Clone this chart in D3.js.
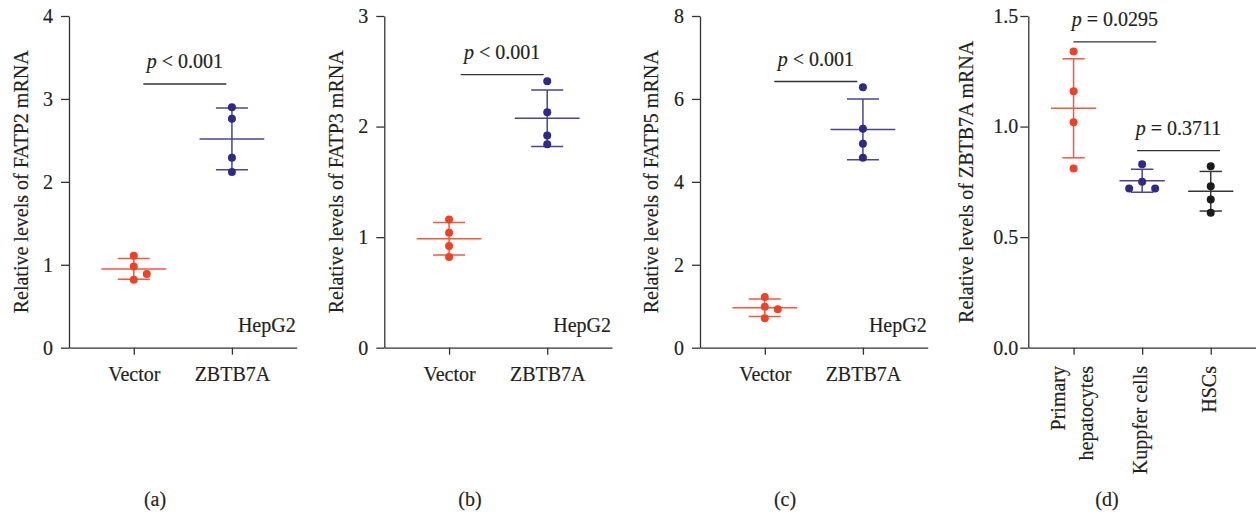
<!DOCTYPE html>
<html>
<head>
<meta charset="utf-8">
<script src="https://cdn.jsdelivr.net/npm/d3@7"></script>
<style>
html,body{margin:0;padding:0;background:#fff;}
svg{display:block;}
svg text{font-family:"Liberation Serif","Times New Roman",Times,serif;stroke:#231f20;stroke-width:0.18px;}
</style>
</head>
<body>
<svg id="chart" width="1256" height="515"></svg>
<script>
/* ---------- data ---------- */
const hepCats   = ["Vector","ZBTB7A"];
const fatp2Vec  = [1.11,0.98,0.89,0.82];
const fatp2Zb   = [2.90,2.76,2.29,2.12];
const fatp3Vec  = [1.16,1.04,0.92,0.82];
const fatp3Zb   = [2.41,2.13,1.92,1.84];
const fatp5Vec  = [1.22,0.99,0.93,0.71];
const fatp5Zb   = [6.28,5.28,4.92,4.58];

const cellCats  = ["Primary\nhepatocytes","Kuppfer cells","HSCs"];
const zbPrimary = [1.34,1.16,1.02,0.81];
const zbKupffer = [0.83,0.75,0.72,0.72];
const zbHSC     = [0.82,0.73,0.67,0.61];

const ticksA = [0,1,2,3,4];
const ticksB = [0,1,2,3];
const ticksC = [0,2,4,6,8];
const ticksD = [0,0.5,1.0,1.5];

// significance bars: pair of category indexes, height in data units, label
const sigA = [{pair:[0,1], y:3.18, op:"<", val:"0.001"}];
const sigB = [{pair:[0,1], y:2.47, op:"<", val:"0.001"}];
const sigC = [{pair:[0,1], y:6.42, op:"<", val:"0.001"}];
const sigD = [{pair:[0,1], y:1.383, op:"=", val:"0.0295"},
              {pair:[1,2], y:0.891, op:"=", val:"0.3711"}];

/* ---------- style ---------- */
const INK="#231f20", AX="#333";
const RED="#ee4126", BLUE="#2f2a88", BLACK="#1b1b1b";
const TOP=16, BOT=347.7, R=4;

const panels=[
  {left:69,   yMax:4,   ticks:ticksA, fmt:d3.format("d"),   pad:8, cats:hepCats,  groups:[fatp2Vec,fatp2Zb],
   colors:[RED,BLUE], ylab:"Relative levels of FATP2 mRNA", ylabX:28,  sig:sigA, sigDx:[2],   tag:"(a)", tagX:155,  cell:"HepG2"},
  {left:384.3,yMax:3,   ticks:ticksB, fmt:d3.format("d"),   pad:8, cats:hepCats,  groups:[fatp3Vec,fatp3Zb],
   colors:[RED,BLUE], ylab:"Relative levels of FATP3 mRNA", ylabX:343, sig:sigB, sigDx:[4],   tag:"(b)", tagX:470,  cell:"HepG2"},
  {left:700,  yMax:8,   ticks:ticksC, fmt:d3.format("d"),   pad:8, cats:hepCats,  groups:[fatp5Vec,fatp5Zb],
   colors:[RED,BLUE], ylab:"Relative levels of FATP5 mRNA", ylabX:658, sig:sigC, sigDx:[2],   tag:"(c)", tagX:785,  cell:"HepG2"},
  {left:1028.3,yMax:1.5,ticks:ticksD, fmt:d3.format(".1f"), pad:2, cats:cellCats, groups:[zbPrimary,zbKupffer,zbHSC],
   colors:[RED,BLUE,BLACK], ylab:"Relative levels of ZBTB7A mRNA", ylabX:973, sig:sigD, sigDx:[7,2], tag:"(d)", tagX:1107, cell:null}
];
const W=227.7;

const svg=d3.select("#chart");

function lighten(c){ return d3.interpolateRgb(c,"#fff")(0.12); }

// simple beeswarm: place points top-down, shift sideways when they would overlap
function swarm(vals,y){
  const order=d3.range(vals.length).sort((i,j)=>vals[j]-vals[i]);
  const placed=[], off=vals.map(()=>0);
  order.forEach(i=>{
    const py=y(vals[i]);
    for(const s of [0,1,-1,2,-2]){
      const px=s*13;
      if(placed.every(p=>Math.hypot(p.x-px,p.y-py)>=2*R+0.5)){
        off[i]=px; placed.push({x:px,y:py}); break;
      }
    }
  });
  return off;
}

panels.forEach(P=>{
  const g=svg.append("g");
  const x=d3.scalePoint().domain(P.cats).range([P.left,P.left+W]).padding(0.66);
  const y=d3.scaleLinear().domain([0,P.yMax]).range([BOT,TOP]);
  const step=x.step();

  // y axis
  const ya=g.append("g").attr("transform",`translate(${P.left},0)`)
    .call(d3.axisLeft(y).tickValues(P.ticks).tickFormat(P.fmt).tickSize(8).tickPadding(P.pad).tickSizeOuter(0));
  // x axis
  const xa=g.append("g").attr("transform",`translate(0,${BOT})`)
    .call(d3.axisBottom(x).tickSize(7).tickPadding(12).tickSizeOuter(0));
  [ya,xa].forEach(a=>{
    a.attr("font-family",null).attr("font-size",20).attr("color",INK);
    a.selectAll("path,line").attr("stroke",AX).attr("stroke-width",1.3);
  });

  // multi-line / rotated category labels for panel d
  if(P.cats.length>2){
    xa.selectAll(".tick text").remove();
    P.cats.forEach(c=>{
      const lines=c.split("\n");
      const t=g.append("text").attr("transform",`translate(${x(c)},366) rotate(-90)`)
        .attr("text-anchor","end").attr("font-size",20).attr("fill",INK);
      lines.forEach((ln,i)=>t.append("tspan").attr("x",0)
        .attr("y",5+(i-(lines.length-1)/2)*28).text(ln));
    });
  }

  // y label
  g.append("text").attr("transform",`translate(${P.ylabX},${(TOP+BOT)/2}) rotate(-90)`)
    .attr("text-anchor","middle").attr("font-size",20).attr("fill",INK).text(P.ylab);

  // groups: mean, SD, points
  P.groups.forEach((vals,i)=>{
    const cx=x(P.cats[i]), col=P.colors[i], lc=lighten(col);
    const m=d3.mean(vals), sd=d3.deviation(vals);
    const gg=g.append("g").attr("stroke",lc).attr("stroke-width",1.5);
    gg.append("line").attr("x1",cx).attr("x2",cx).attr("y1",y(m+sd)).attr("y2",y(m-sd));
    [m+sd,m-sd].forEach(v=>gg.append("line").attr("x1",cx-step*0.163).attr("x2",cx+step*0.163)
      .attr("y1",y(v)).attr("y2",y(v)));
    gg.append("line").attr("x1",cx-step*0.33).attr("x2",cx+step*0.33).attr("y1",y(m)).attr("y2",y(m));
    const off=swarm(vals,y);
    g.append("g").selectAll("circle").data(vals).join("circle")
      .attr("cx",(d,j)=>cx+off[j]).attr("cy",d=>y(d)).attr("r",R).attr("fill",col);
  });

  // significance bars
  P.sig.forEach((s,k)=>{
    const mid=(x(P.cats[s.pair[0]])+x(P.cats[s.pair[1]]))/2+P.sigDx[k];
    const yy=y(s.y);
    g.append("line").attr("x1",mid-41.5).attr("x2",mid+41.5).attr("y1",yy).attr("y2",yy)
      .attr("stroke",AX).attr("stroke-width",1.3);
    const t=g.append("text").attr("x",mid).attr("y",yy-15.5).attr("text-anchor","middle")
      .attr("font-size",20).attr("fill",INK);
    t.append("tspan").attr("font-style","italic").text("p");
    t.append("tspan").text(` ${s.op} ${s.val}`);
  });

  if(P.cell) g.append("text").attr("x",P.left+W-1).attr("y",332).attr("text-anchor","end")
    .attr("font-size",20).attr("fill",INK).text(P.cell);

  g.append("text").attr("x",P.tagX).attr("y",506).attr("text-anchor","middle")
    .attr("font-size",20).attr("fill",INK).text(P.tag);
});
</script>
</body>
</html>
